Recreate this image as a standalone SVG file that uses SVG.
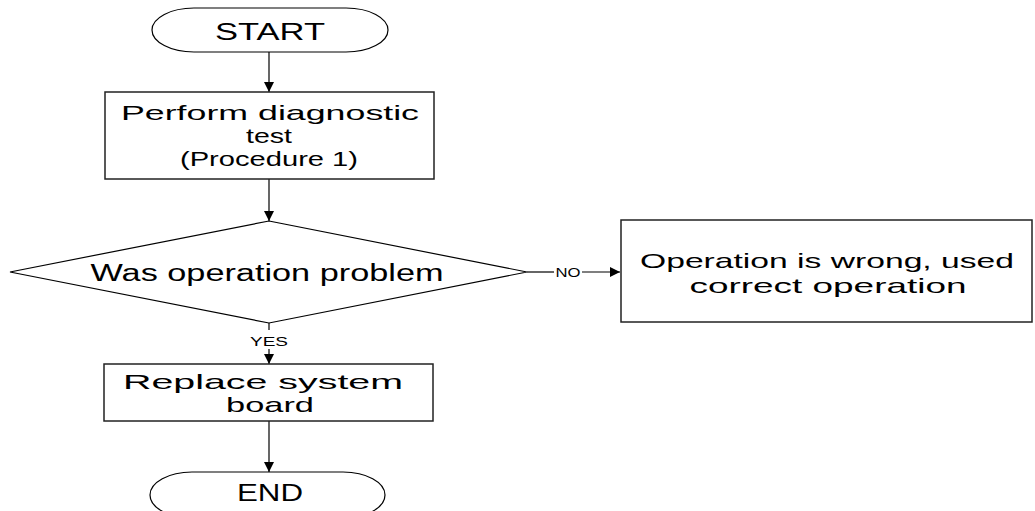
<svg xmlns="http://www.w3.org/2000/svg" width="1035" height="511" viewBox="0 0 1035 511">
  <style>
    .shape { fill: #ffffff; stroke: #000000; stroke-width: 1.2; }
    .box { fill: #ffffff; stroke: #222222; stroke-width: 1.5; }
    .conn { fill: none; stroke: #000000; stroke-width: 1.2; }
    .lbl { font-family: "Liberation Sans", Arial, sans-serif; font-size: 21px; fill: #000000; text-anchor: middle; }
    .big { font-size: 23px; }
    .small { font-family: "Liberation Sans", Arial, sans-serif; font-size: 13px; fill: #000000; text-anchor: middle; }
  </style>
  <defs>
    <marker id="arrow" viewBox="0 0 10 10" refX="10" refY="5" markerWidth="10" markerHeight="10" markerUnits="userSpaceOnUse" orient="auto">
      <path d="M0,0 L10,5 L0,10 Z" fill="#000000"/>
    </marker>
  </defs>

  <rect width="1035" height="511" fill="#ffffff"/>

  <!-- connectors -->
  <g id="connectors">
    <line class="conn" x1="269" y1="52" x2="269" y2="92" marker-end="url(#arrow)"/>
    <line class="conn" x1="269" y1="179" x2="269" y2="221" marker-end="url(#arrow)"/>
    <line class="conn" x1="269" y1="323" x2="269" y2="330"/>
    <text class="small" x="269" y="346" textLength="38" lengthAdjust="spacingAndGlyphs">YES</text>
    <line class="conn" x1="269" y1="349" x2="269" y2="364" marker-end="url(#arrow)"/>
    <line class="conn" x1="527" y1="272" x2="554" y2="272"/>
    <text class="small" x="568" y="277" textLength="25" lengthAdjust="spacingAndGlyphs">NO</text>
    <line class="conn" x1="582" y1="272" x2="620" y2="272" marker-end="url(#arrow)"/>
    <line class="conn" x1="269" y1="421" x2="269" y2="472" marker-end="url(#arrow)"/>
  </g>

  <!-- START -->
  <g id="start">
    <rect class="shape" x="152" y="8" width="236" height="44" rx="42" ry="22"/>
    <text class="lbl big" x="270" y="40" textLength="110" lengthAdjust="spacingAndGlyphs">START</text>
  </g>

  <!-- diagnostic test -->
  <g id="diagnostic">
    <rect class="box" x="105" y="92" width="329" height="87"/>
    <text class="lbl" x="270" y="120" textLength="298" lengthAdjust="spacingAndGlyphs">Perform diagnostic</text>
    <text class="lbl" x="269" y="143" textLength="46" lengthAdjust="spacingAndGlyphs">test</text>
    <text class="lbl" x="269" y="166" textLength="178" lengthAdjust="spacingAndGlyphs">(Procedure 1)</text>
  </g>

  <!-- decision -->
  <g id="decision">
    <polygon class="shape" points="269,221 527,272 269,323 10,272"/>
    <text class="lbl big" x="267" y="281" textLength="353" lengthAdjust="spacingAndGlyphs">Was operation problem</text>
  </g>

  <!-- wrong operation -->
  <g id="wrong-operation">
    <rect class="box" x="621" y="220" width="411" height="102"/>
    <text class="lbl" x="827" y="268" textLength="374" lengthAdjust="spacingAndGlyphs">Operation is wrong, used</text>
    <text class="lbl" x="828" y="293" textLength="277" lengthAdjust="spacingAndGlyphs">correct operation</text>
  </g>

  <!-- replace board -->
  <g id="replace-board">
    <rect class="box" x="104" y="364" width="329" height="57"/>
    <text class="lbl" x="263" y="389" textLength="280" lengthAdjust="spacingAndGlyphs">Replace system</text>
    <text class="lbl" x="270" y="412" textLength="88" lengthAdjust="spacingAndGlyphs">board</text>
  </g>

  <!-- END -->
  <g id="end">
    <rect class="shape" x="150" y="472" width="235" height="46" rx="42" ry="23"/>
    <text class="lbl big" x="270" y="501" textLength="66" lengthAdjust="spacingAndGlyphs">END</text>
  </g>
</svg>
